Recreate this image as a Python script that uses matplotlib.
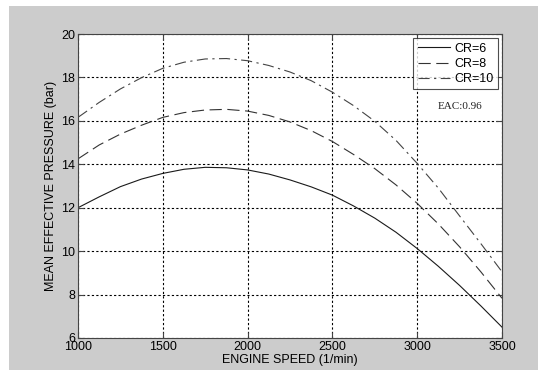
import numpy as np
import matplotlib.pyplot as plt
from matplotlib.patches import Rectangle

# values (every 125 rpm)
speed = [1000, 1125, 1250, 1375, 1500, 1625, 1750, 1875, 2000, 2125, 2250,
         2375, 2500, 2625, 2750, 2875, 3000, 3125, 3250, 3375, 3500]
mep_cr6 = [12.0, 12.5, 12.97, 13.32, 13.58, 13.77, 13.86, 13.84, 13.74, 13.55, 13.28,
           12.96, 12.58, 12.08, 11.52, 10.87, 10.12, 9.3, 8.42, 7.48, 6.5]
mep_cr8 = [14.25, 14.89, 15.39, 15.8, 16.16, 16.38, 16.5, 16.53, 16.45, 16.25, 15.95,
           15.55, 15.05, 14.45, 13.8, 13.05, 12.2, 11.25, 10.2, 9.05, 7.83]
mep_cr10 = [16.16, 16.85, 17.47, 17.99, 18.42, 18.7, 18.85, 18.87, 18.77, 18.55, 18.25,
            17.85, 17.32, 16.7, 15.98, 15.1, 14.04, 12.9, 11.62, 10.35, 9.05]
labels = ['CR=6', 'CR=8', 'CR=10']
xticks = [1000, 1500, 2000, 2500, 3000, 3500]
yticks = [6, 8, 10, 12, 14, 16, 18, 20]

plt.rcParams['font.family'] = ['Liberation Sans', 'DejaVu Sans']

W, H = 538, 370
fig = plt.figure(figsize=(W / 100, H / 100), dpi=100, facecolor='white')
# gray matlab-like background, with a thin white strip on the left and top
fig.patches.append(Rectangle((9 / W, 0), 1 - 9 / W, 1 - 6 / H, transform=fig.transFigure,
                             facecolor='#cccccc', edgecolor='none', zorder=-5))

ax = fig.add_axes([78 / W, 1 - 338 / H, (502 - 78) / W, (338 - 34) / H])
ax.set_facecolor('white')

ax.plot(speed, mep_cr6, color='#1a1a1a', lw=0.8, ls='-', label=labels[0])
ax.plot(speed, mep_cr8, color='#333333', lw=0.8, ls=(0, (11, 5)), label=labels[1])
ax.plot(speed, mep_cr10, color='#444444', lw=0.8, ls=(0, (10, 4, 2, 4)), label=labels[2])

ax.set_xlim(1000, 3500)
ax.set_ylim(6, 20)
ax.set_xticks(xticks)
ax.set_yticks(yticks)
ax.tick_params(direction='in', labelsize=9, length=4, color='#444444', pad=2,
               top=True, right=True)
ax.grid(True, color='black', ls=(0, (2, 2)), lw=0.8)
for s in ax.spines.values():
    s.set_color('#444444')
    s.set_linewidth(0.8)

ax.set_xlabel('ENGINE SPEED (1/min)', fontsize=9, labelpad=1)
ax.set_ylabel('MEAN EFFECTIVE PRESSURE (bar)', fontsize=9, labelpad=3)

leg = ax.legend(loc='upper right', fontsize=9, handlelength=2.6, frameon=True,
                fancybox=False, edgecolor='#222222', borderaxespad=0.35,
                borderpad=0.35, labelspacing=0.25, handletextpad=0.3)
leg.get_frame().set_linewidth(0.8)

ax.text(0.90, 0.763, 'EAC:0.96', transform=ax.transAxes, ha='center', va='center',
        fontsize=8, family=['Liberation Serif', 'DejaVu Serif'], color='#222222')

fig.savefig('out.png', dpi=100)
